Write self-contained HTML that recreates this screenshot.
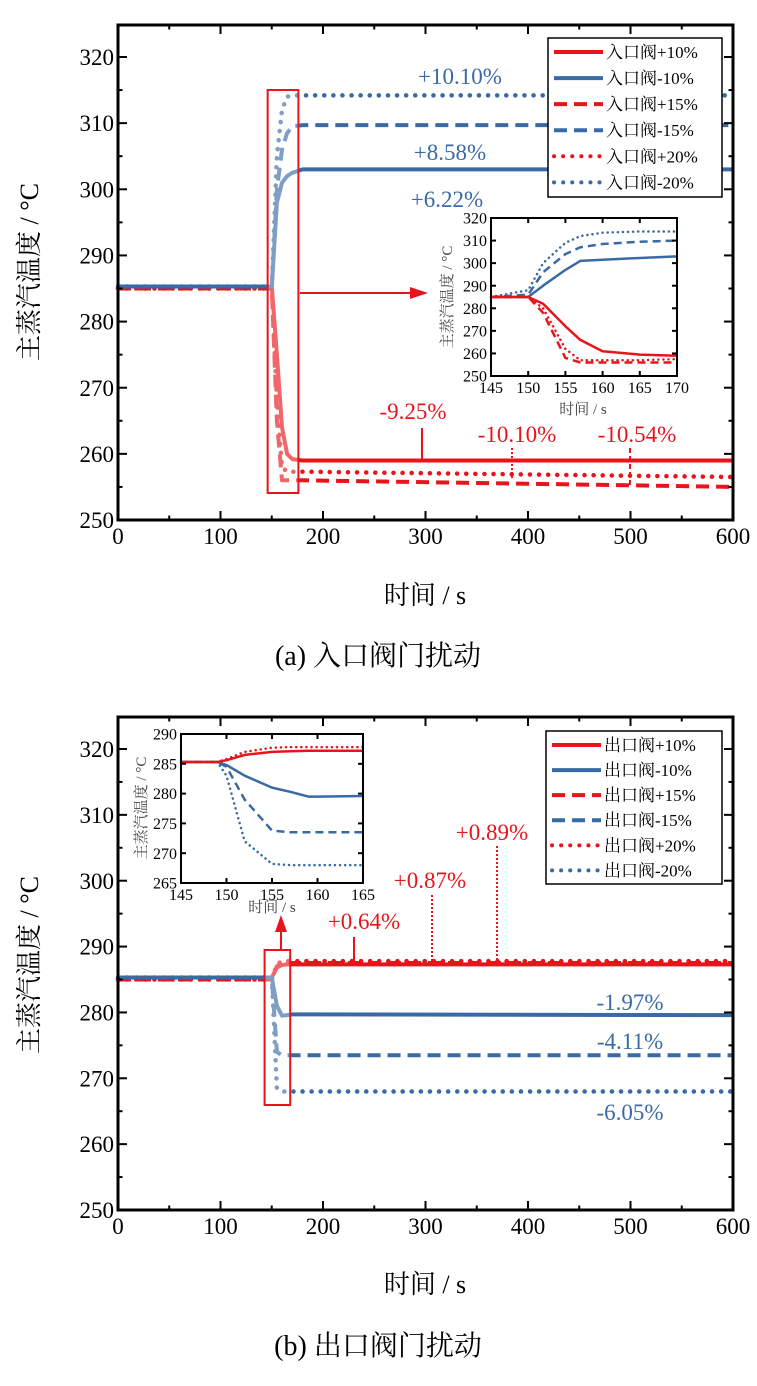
<!DOCTYPE html>
<html><head><meta charset="utf-8">
<style>
body{margin:0;background:#fff;}
svg{display:block;font-family:"Liberation Serif","Noto Serif CJK SC",serif;}
</style></head>
<body>
<svg id="s" width="757" height="1386" viewBox="0 0 757 1386"></svg>
<script>
// ---- Data (a) inlet valve, main plot ----
const tA = [0,150,155,160,165,170,180,600];
const inP10 = [285.3,285.3,275,264,260,259.2,259,259];
const inM10 = [285.3,285.3,298,301,302,302.5,303,303];
const inP15 = [285,285,265,256,256,256,256,255];
const inM15 = [285.3,285.3,300,306,308.5,309.5,309.7,309.7];
const inP20 = [285,285,268,258,257.3,257.3,257.3,256.5];
const inM20 = [285.3,285.3,305,312,314,314.2,314.2,314.2];
// inset (a)
const tAi = [145,150,152,155,157,160,165,170];
const iinP10 = [285,285,282,272,266,261,259.5,259];
const iinM10 = [285,285,290,297,301,301.5,302.3,303];
const iinP15 = [285,285,278,258,256,256,256,256];
const iinM15 = [285,286,296,304,307,308.5,309.5,310];
const iinP20 = [285,285,280,262,257,257,257,257.5];
const iinM20 = [285,288,300,309,312,313.5,314,314];
// ---- Data (b) outlet valve ----
const tB = [0,150,155,160,165,170,180,600];
const outP10 = [285.3,285.3,286.8,287.2,287.3,287.3,287.3,287.3];
const outM10 = [285.3,285.3,281,279.5,279.6,279.7,279.7,279.6];
const outP15 = [285,285,287,287.5,287.5,287.5,287.5,287.5];
const outM15 = [285.3,285.3,274,273.5,273.5,273.5,273.5,273.5];
const outP20 = [285,285,287.3,287.8,287.8,287.8,287.8,287.8];
const outM20 = [285.3,285.3,268.5,268,268,268,268,268];
const tBi = [145,149,150,152,155,157,159,160,165];
const ioutP10 = [285.3,285.3,285.6,286.5,287,287.1,287.2,287.2,287.2];
const ioutM10 = [285.3,285.3,284.8,283,281,280.3,279.5,279.5,279.6];
const ioutM15 = [285.3,285.3,284.5,279,273.8,273.5,273.5,273.5,273.5];
const ioutM20 = [285.3,285.3,283,272,268.2,268,268,268,268];
const ioutP20 = [285.3,285.3,285.8,287,287.7,287.8,287.8,287.8,287.8];
const xTicksMain = [0,100,200,300,400,500,600];
const yTicksMain = [250,260,270,280,290,300,310,320];

const RED="#e8141c", BLUE="#3a6aa5";
const S=document.getElementById('s');
const NS="http://www.w3.org/2000/svg";
function el(tag,attrs,parent,text){const e=document.createElementNS(NS,tag);for(const k in attrs)e.setAttribute(k,attrs[k]);if(text!==undefined)e.textContent=text;(parent||S).appendChild(e);return e;}
function scale(d0,d1,r0,r1){return v=>r0+(v-d0)/(d1-d0)*(r1-r0);}
const STY={solid:{d:"none",w:4,cap:"butt"},dash:{d:"13,7",w:4,cap:"butt"},dot:{d:"0.1,9",w:4.5,cap:"round"}};
function line(xs,ys,sx,sy,color,sty,w,name,g){
  let d="";xs.forEach((x,i)=>{d+=(i?"L":"M")+sx(x).toFixed(1)+","+sy(ys[i]).toFixed(1);});
  const p=el('path',{d:d,fill:"none",stroke:color,"stroke-width":w||STY[sty].w,"stroke-dasharray":sty==="dot"?(w?"0.1,5":STY.dot.d):(sty==="dash"&&w?"8,5":STY[sty].d),"stroke-linecap":STY[sty].cap,"stroke-linejoin":"round"},g);
  
  
}
function axes(x0,x1,y0,y1,sx,sy,xt,yt,fs,minor,g,pre){
  const ax=el('g',{},g);
  
  
  el('rect',{x:x0,y:y1,width:x1-x0,height:y0-y1,fill:"none",stroke:"#000","stroke-width":fs>17?3:2},ax);
  const tl=fs>17?9:5;
  xt.forEach((v,i)=>{const x=sx(v);
    el('line',{x1:x,y1:y0,x2:x,y2:y0-tl,stroke:"#000","stroke-width":2},ax);
    el('line',{x1:x,y1:y1,x2:x,y2:y1+tl,stroke:"#000","stroke-width":2},ax);
    const t=el('text',{x:x,y:y0+fs+1,"font-size":fs,"text-anchor":"middle"},ax,v);
    
    
    if(minor&&i<xt.length-1){const m=sx((v+xt[i+1])/2);el('line',{x1:m,y1:y0,x2:m,y2:y0-tl/2,stroke:"#000","stroke-width":2},ax);el('line',{x1:m,y1:y1,x2:m,y2:y1+tl/2,stroke:"#000","stroke-width":2},ax);}
  });
  yt.forEach((v,i)=>{const y=sy(v);
    el('line',{x1:x0,y1:y,x2:x0+tl,y2:y,stroke:"#000","stroke-width":2},ax);
    el('line',{x1:x1,y1:y,x2:x1-tl,y2:y,stroke:"#000","stroke-width":2},ax);
    const t=el('text',{x:x0-4,y:y+fs*0.35,"font-size":fs,"text-anchor":"end"},ax,v);
    
    
    if(minor&&i<yt.length-1){const m=sy((v+yt[i+1])/2);el('line',{x1:x0,y1:m,x2:x0+tl/2,y2:m,stroke:"#000","stroke-width":2},ax);el('line',{x1:x1,y1:m,x2:x1-tl/2,y2:m,stroke:"#000","stroke-width":2},ax);}
  });
}
function legend(x,y,w,h,labels,g,pre){
  const lg=el('g',{},g);
  
  
  el('rect',{x:x,y:y,width:w,height:h,fill:"#fff",stroke:"#000","stroke-width":1.5},lg);
  const stys=["solid","solid","dash","dash","dot","dot"];
  labels.forEach((lb,i)=>{const yy=y+14+i*h/6.1;const c=i%2?BLUE:RED;
    el('path',{d:`M${x+6},${yy}L${x+55},${yy}`,stroke:c,"stroke-width":4,"stroke-dasharray":STY[stys[i]].d,"stroke-linecap":STY[stys[i]].cap},lg);
    const t=el('text',{x:x+58,y:yy+6,"font-size":17},lg,lb);
    
    
  });
}
function txt(x,y,s,fs,c,name,anchor,rot){const t=el('text',{x:x,y:y,"font-size":fs,fill:c||"#000","text-anchor":anchor||"middle"},null,s);if(rot)t.setAttribute('transform',`rotate(-90 ${x} ${y})`);return t;}

// ===== Panel (a) =====
(function(){
  const g=el('g',{});
  const sx=scale(0,600,118,733), sy=scale(250,320,520,57);
  el('rect',{x:118,y:25,width:615,height:495,fill:"#fff"},g);
  const ser=[[inM20,BLUE,"dot","in-m20"],[inM15,BLUE,"dash","in-m15"],[inP20,RED,"dot","in-p20"],[inP15,RED,"dash","in-p15"],[inP10,RED,"solid","in-p10"],[inM10,BLUE,"solid","in-m10"]];
  ser.forEach(s=>line(tA,s[0],sx,sy,s[1],s[2],null,'series-'+s[3],g));
  el('rect',{x:sx(146),y:90,width:sx(176)-sx(146),height:403,fill:"#fff","fill-opacity":0.35,stroke:RED,"stroke-width":2},g);
  axes(118,733,520,25,sx,sy,xTicksMain,yTicksMain,23,true,g,'a-');
  legend(548,38,174,159,["入口阀+10%","入口阀-10%","入口阀+15%","入口阀-15%","入口阀+20%","入口阀-20%"],g,'a-');
  el('line',{x1:300,y1:293,x2:412,y2:293,stroke:RED,"stroke-width":2},g);
  el('path',{d:"M428,293L410,287L410,299Z",fill:RED},g);
  const ix0=491,ix1=677,iy0=376,iy1=218;
  const isx=scale(145,170,ix0,ix1), isy=scale(250,320,iy0,iy1);
  el('rect',{x:ix0,y:iy1,width:ix1-ix0,height:iy0-iy1,fill:"#fff"},g);
  const iser=[[iinM20,BLUE,"dot","in-m20"],[iinM15,BLUE,"dash","in-m15"],[iinM10,BLUE,"solid","in-m10"],[iinP20,RED,"dot","in-p20"],[iinP15,RED,"dash","in-p15"],[iinP10,RED,"solid","in-p10"]];
  iser.forEach(s=>line(tAi,s[0],isx,isy,s[1],s[2],2.5,'inset-series-'+s[3],g));
  axes(ix0,ix1,iy0,iy1,isx,isy,[145,150,155,160,165,170],[250,260,270,280,290,300,310,320],16,false,g,'a-inset-');
  txt(583,414,"时间 / s",15,"#444","a-inset-x-title");
  txt(452,297,"主蒸汽温度 / °C",15,"#444","a-inset-y-title","middle",true);
  txt(460,84,"+10.10%",23,BLUE,"label-m20");
  txt(450,160,"+8.58%",23,BLUE,"label-m10");
  txt(447,207,"+6.22%",23,BLUE,"label-m15");
  txt(413,419,"-9.25%",23,RED,"label-p10");
  el('line',{x1:422,y1:428,x2:422,y2:460,stroke:RED,"stroke-width":2},g);
  txt(517,442,"-10.10%",23,RED,"label-p20");
  el('line',{x1:512,y1:448,x2:512,y2:478,stroke:RED,"stroke-width":2,"stroke-dasharray":"2,2"},g);
  txt(637,442,"-10.54%",23,RED,"label-p15");
  el('line',{x1:630,y1:448,x2:630,y2:486,stroke:RED,"stroke-width":2,"stroke-dasharray":"5,3"},g);
  txt(425,604,"时间 / s",26,"#000","a-x-axis-title");
  txt(38,272,"主蒸汽温度 / °C",26,"#000","a-y-axis-title","middle",true);
  txt(378,665,"(a) 入口阀门扰动",28,"#000","caption-a");
})();

// ===== Panel (b) =====
(function(){
  const g=el('g',{});
  const sx=scale(0,600,118,733), sy=scale(250,320,1210,749);
  el('rect',{x:118,y:717,width:615,height:493,fill:"#fff"},g);
  const ser=[[outM20,BLUE,"dot","out-m20"],[outM15,BLUE,"dash","out-m15"],[outP20,RED,"dot","out-p20"],[outP15,RED,"dash","out-p15"],[outP10,RED,"solid","out-p10"],[outM10,BLUE,"solid","out-m10"]];
  ser.forEach(s=>line(tB,s[0],sx,sy,s[1],s[2],null,'series-'+s[3],g));
  el('rect',{x:sx(143),y:950,width:sx(168)-sx(143),height:155,fill:"#fff","fill-opacity":0.35,stroke:RED,"stroke-width":2},g);
  axes(118,733,1210,717,sx,sy,xTicksMain,yTicksMain,23,true,g,'b-');
  legend(546,731,176,153,["出口阀+10%","出口阀-10%","出口阀+15%","出口阀-15%","出口阀+20%","出口阀-20%"],g,'b-');
  el('line',{x1:281,y1:950,x2:281,y2:930,stroke:RED,"stroke-width":2},g);
  el('path',{d:"M281,915L275,932L287,932Z",fill:RED},g);
  const ix0=181,ix1=363,iy0=883,iy1=734;
  const isx=scale(145,165,ix0,ix1), isy=scale(265,290,iy0,iy1);
  el('rect',{x:ix0,y:iy1,width:ix1-ix0,height:iy0-iy1,fill:"#fff"},g);
  const iser=[[ioutM20,BLUE,"dot","out-m20"],[ioutM15,BLUE,"dash","out-m15"],[ioutM10,BLUE,"solid","out-m10"],[ioutP20,RED,"dot","out-p20"],[ioutP10,RED,"solid","out-p10"]];
  iser.forEach(s=>line(tBi,s[0],isx,isy,s[1],s[2],2.5,'inset-series-'+s[3],g));
  axes(ix0,ix1,iy0,iy1,isx,isy,[145,150,155,160,165],[265,270,275,280,285,290],16,false,g,'b-inset-');
  txt(272,912,"时间 / s",15,"#444","b-inset-x-title");
  txt(146,808,"主蒸汽温度 / °C",15,"#444","b-inset-y-title","middle",true);
  txt(492,840,"+0.89%",23,RED,"label-out-p20");
  el('line',{x1:497,y1:846,x2:497,y2:965,stroke:RED,"stroke-width":2,"stroke-dasharray":"2,2"},g);
  txt(430,888,"+0.87%",23,RED,"label-out-p15");
  el('line',{x1:432,y1:895,x2:432,y2:965,stroke:RED,"stroke-width":2,"stroke-dasharray":"2,2"},g);
  txt(364,929,"+0.64%",23,RED,"label-out-p10");
  el('line',{x1:354,y1:937,x2:354,y2:965,stroke:RED,"stroke-width":2},g);
  txt(630,1010,"-1.97%",23,BLUE,"label-out-m10");
  txt(630,1049,"-4.11%",23,BLUE,"label-out-m15");
  txt(630,1120,"-6.05%",23,BLUE,"label-out-m20");
  txt(425,1293,"时间 / s",26,"#000","b-x-axis-title");
  txt(38,965,"主蒸汽温度 / °C",26,"#000","b-y-axis-title","middle",true);
  txt(378,1355,"(b) 出口阀门扰动",28,"#000","caption-b");
})();
</script>
</body></html>
